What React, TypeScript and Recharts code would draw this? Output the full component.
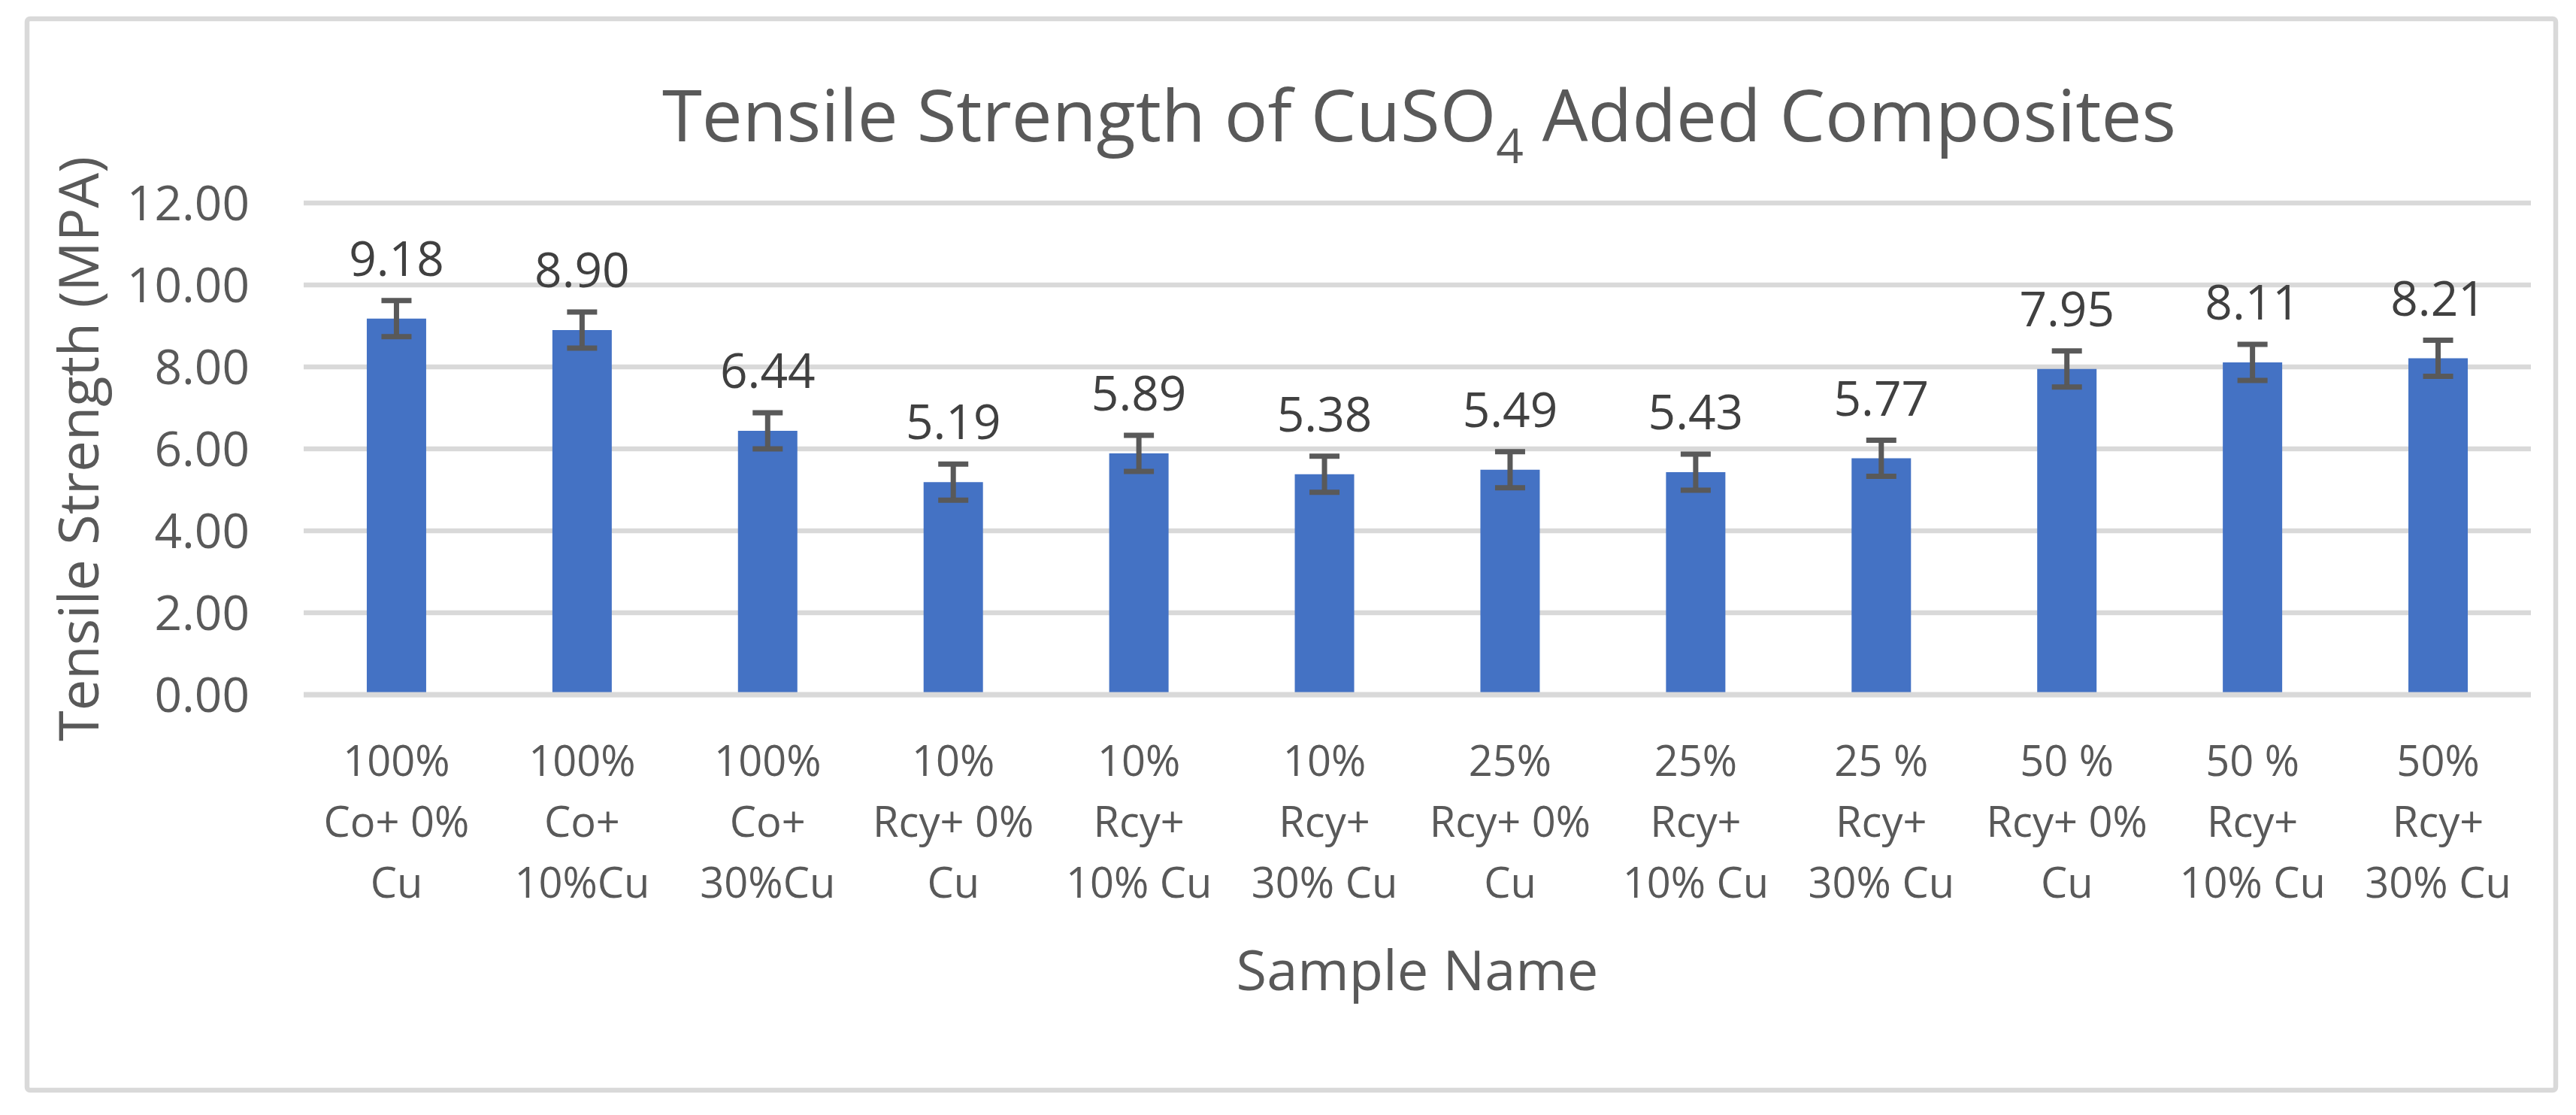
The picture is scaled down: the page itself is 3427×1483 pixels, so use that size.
import React from "react";
import {
  BarChart,
  Bar,
  XAxis,
  YAxis,
  CartesianGrid,
  LabelList,
  ErrorBar,
} from "recharts";

const SAMPLES = [
  "100%\nCo+ 0%\nCu",
  "100%\nCo+\n10%Cu",
  "100%\nCo+\n30%Cu",
  "10%\nRcy+ 0%\nCu",
  "10%\nRcy+\n10% Cu",
  "10%\nRcy+\n30% Cu",
  "25%\nRcy+ 0%\nCu",
  "25%\nRcy+\n10% Cu",
  "25 %\nRcy+\n30% Cu",
  "50 %\nRcy+ 0%\nCu",
  "50 %\nRcy+\n10% Cu",
  "50%\nRcy+\n30% Cu",
];
const STRENGTH = [9.18, 8.9, 6.44, 5.19, 5.89, 5.38, 5.49, 5.43, 5.77, 7.95, 8.11, 8.21];
// error bars: about the same size on every bar
const ERROR = [0.44, 0.44, 0.44, 0.44, 0.44, 0.44, 0.44, 0.44, 0.44, 0.44, 0.44, 0.44];
const Y_TICKS = [0, 2, 4, 6, 8, 10, 12];

const FONT = "'Open Sans', 'Noto Sans', sans-serif";
const TEXT = "#595959";
const GRID = "#D9D9D9";
const BAR = "#4472C4";

const W = 3427;
const H = 1483;

const chartData = SAMPLES.map((name, i) => ({
  name,
  value: STRENGTH[i],
  err: ERROR[i],
}));

function SampleTick({ x, y, payload }: any) {
  const lines = String(payload.value).split("\n");
  return (
    <text x={x} y={y} textAnchor="middle" fill={TEXT} fontSize={56} fontFamily={FONT}>
      {lines.map((ln, i) => (
        <tspan key={i} x={x} dy={i === 0 ? 100 : 81}>
          {ln}
        </tspan>
      ))}
    </text>
  );
}

export default function App() {
  return (
    <div style={{ position: "absolute", left: 0, top: 0, width: W, height: H, background: "#fff" }}>
      <BarChart
        width={W}
        height={H}
        data={chartData}
        margin={{ top: 270, right: 60, left: 0, bottom: 33 }}
        barCategoryGap="34%"
        style={{ fontFamily: FONT }}
      >
        <CartesianGrid vertical={false} stroke={GRID} strokeWidth={6.5} />
        <YAxis
          width={404}
          domain={[0, 12]}
          ticks={Y_TICKS}
          tickFormatter={(v: number) => v.toFixed(2)}
          axisLine={false}
          tickLine={false}
          tickMargin={66}
          tick={{ fill: TEXT, fontSize: 64, fontFamily: FONT }}
          label={{
            value: "Tensile Strength (MPA)",
            angle: -90,
            position: "insideLeft",
            offset: 105,
            fill: TEXT,
            fontSize: 74,
            fontFamily: FONT,
            style: { textAnchor: "middle" },
          }}
        />
        <Bar dataKey="value" fill={BAR} isAnimationActive={false}>
          <ErrorBar
            dataKey="err"
            direction="y"
            width={20}
            stroke="#595959"
            strokeWidth={7}
            isAnimationActive={false}
          />
          <LabelList
            dataKey="value"
            position="top"
            offset={57}
            formatter={(v: number) => v.toFixed(2)}
            fill="#404040"
            fontSize={64}
            fontFamily={FONT}
          />
        </Bar>
        <XAxis
          dataKey="name"
          height={526}
          interval={0}
          axisLine={{ stroke: GRID, strokeWidth: 7 }}
          tickLine={false}
          tick={<SampleTick />}
          label={{
            value: "Sample Name",
            position: "insideBottom",
            offset: 133,
            fill: TEXT,
            fontSize: 74,
            fontFamily: FONT,
          }}
        />
      </BarChart>
      <svg
        width={W}
        height={H}
        style={{ position: "absolute", left: 0, top: 0, pointerEvents: "none" }}
      >
        <rect x={36} y={25} width={3364} height={1425} rx={4} fill="none" stroke={GRID} strokeWidth={6.5} />
        <text x={1888} y={188} textAnchor="middle" fill={TEXT} fontSize={96} fontFamily={FONT}>
          Tensile Strength of CuSO
          <tspan fontSize={64} dy={29}>
            4
          </tspan>
          <tspan dy={-29}> Added Composites</tspan>
        </text>
      </svg>
    </div>
  );
}
